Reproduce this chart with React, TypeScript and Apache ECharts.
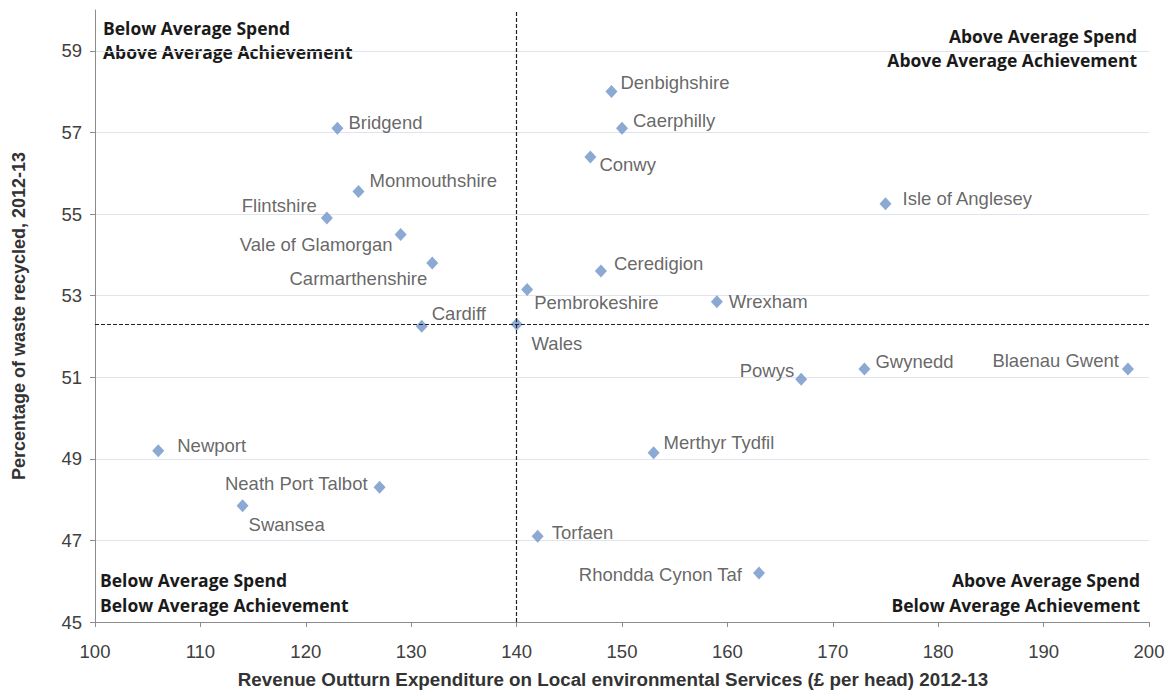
import React, { useEffect, useRef } from "react";
import * as echarts from "echarts";

const authorities = [
  "Denbighshire", "Caerphilly", "Conwy", "Bridgend", "Monmouthshire", "Flintshire",
  "Vale of Glamorgan", "Carmarthenshire", "Ceredigion", "Pembrokeshire", "Wrexham",
  "Cardiff", "Wales", "Isle of Anglesey", "Powys", "Gwynedd", "Blaenau Gwent",
  "Newport", "Neath Port Talbot", "Swansea", "Merthyr Tydfil", "Torfaen", "Rhondda Cynon Taf",
];
const spendPerHead = [149, 150, 147, 123, 125, 122, 129, 132, 148, 141, 159, 131, 140, 175, 167, 173, 198, 106, 127, 114, 153, 142, 163];
const pctRecycled = [58.0, 57.1, 56.4, 57.1, 55.55, 54.9, 54.5, 53.8, 53.6, 53.15, 52.85, 52.25, 52.3, 55.25, 50.95, 51.2, 51.2, 49.2, 48.3, 47.85, 49.15, 47.1, 46.2];
const walesName = "Wales";
const xTicks = { min: 100, max: 200, interval: 10 };
const yTicks = { min: 45, max: 60, interval: 2 };
const xTitle = "Revenue Outturn Expenditure on Local environmental Services (£ per head) 2012-13";
const yTitle = "Percentage of waste recycled, 2012-13";
const quadrantText = {
  topLeft: ["Below Average Spend", "Above Average Achievement"],
  topRight: ["Above Average Spend", "Above Average Achievement"],
  bottomLeft: ["Below Average Spend", "Below Average Achievement"],
  bottomRight: ["Above Average Spend", "Below Average Achievement"],
};

const FONT = "Liberation Sans";
const FS = 18.5;

// label placement (styling only)
const labelPlacement: Record<string, { position: string; offset: number[] }> = {
  "Denbighshire": { position: "right", offset: [-2, -9] },
  "Caerphilly": { position: "right", offset: [0, -8] },
  "Conwy": { position: "right", offset: [-2, 8] },
  "Bridgend": { position: "right", offset: [0, -6] },
  "Monmouthshire": { position: "right", offset: [0, -11] },
  "Flintshire": { position: "left", offset: [1, -13] },
  "Vale of Glamorgan": { position: "left", offset: [3, 10] },
  "Carmarthenshire": { position: "left", offset: [6, 16] },
  "Ceredigion": { position: "right", offset: [2, -8] },
  "Pembrokeshire": { position: "right", offset: [-4, 13] },
  "Wrexham": { position: "right", offset: [1, 0] },
  "Cardiff": { position: "right", offset: [-1, -13] },
  "Wales": { position: "right", offset: [4, 19] },
  "Isle of Anglesey": { position: "right", offset: [6, -5] },
  "Powys": { position: "left", offset: [4, -9] },
  "Gwynedd": { position: "right", offset: [0, -8] },
  "Blaenau Gwent": { position: "left", offset: [2, -9] },
  "Newport": { position: "right", offset: [8, -5] },
  "Neath Port Talbot": { position: "left", offset: [-1, -4] },
  "Swansea": { position: "right", offset: [-5, 19] },
  "Merthyr Tydfil": { position: "right", offset: [-1, -10] },
  "Torfaen": { position: "right", offset: [3, -4] },
  "Rhondda Cynon Taf": { position: "left", offset: [-6, 1] },
};

export default function App() {
  const ref = useRef<HTMLDivElement>(null);
  useEffect(() => {
    if (!ref.current) return;
    const chart = echarts.init(ref.current, null, { renderer: "svg" });
    const wIdx = authorities.indexOf(walesName);
    const data = authorities.map((n, i) => ({
      name: n,
      value: [spendPerHead[i], pctRecycled[i]],
      label: {
        show: true,
        position: labelPlacement[n].position,
        offset: labelPlacement[n].offset,
        distance: 5,
      },
    }));
    const qStyle = { fontFamily: "Open Sans", fontWeight: "bold", fontSize: 17.5, fill: "#1a1a1a" };
    const line = (text: string, x: number, y: number, align: string) => ({
      type: "text",
      x,
      y,
      style: { ...qStyle, text, align, verticalAlign: "middle" },
    });
    chart.setOption({
      animation: false,
      backgroundColor: "#ffffff",
      textStyle: { fontFamily: FONT },
      grid: { left: 95, right: 24, top: 10, bottom: 73, containLabel: false },
      xAxis: {
        type: "value",
        min: xTicks.min,
        max: xTicks.max,
        interval: xTicks.interval,
        axisLine: { show: true, lineStyle: { color: "#8c8c8c", width: 1 } },
        axisTick: { show: true, length: 5, lineStyle: { color: "#8c8c8c" } },
        axisLabel: { color: "#404040", fontSize: FS, margin: 20, fontFamily: FONT },
        splitLine: { show: false },
        name: xTitle,
        nameLocation: "middle",
        nameGap: 48,
        nameTextStyle: { fontWeight: "bold", fontSize: 18.8, color: "#333333", fontFamily: FONT, padding: [0, 18, 0, 0] },
      },
      yAxis: {
        type: "value",
        min: yTicks.min,
        max: yTicks.max,
        interval: yTicks.interval,
        axisLine: { show: true, lineStyle: { color: "#8c8c8c", width: 1 } },
        axisTick: { show: true, length: 5, lineStyle: { color: "#8c8c8c" } },
        axisLabel: { color: "#404040", fontSize: FS, margin: 13, showMaxLabel: false, fontFamily: FONT },
        splitLine: { show: true, showMinLine: false, showMaxLine: false, lineStyle: { color: "#dfe4ef", width: 1 } },
        name: yTitle,
        nameLocation: "middle",
        nameGap: 67,
        nameTextStyle: { fontWeight: "bold", fontSize: 18, color: "#333333", fontFamily: FONT },
      },
      graphic: [
        line(quadrantText.topLeft[0], 103, 28, "left"),
        line(quadrantText.topLeft[1], 103, 52, "left"),
        line(quadrantText.topRight[0], 1137, 36, "right"),
        line(quadrantText.topRight[1], 1137, 60, "right"),
        line(quadrantText.bottomLeft[0], 100, 580, "left"),
        line(quadrantText.bottomLeft[1], 100, 605, "left"),
        line(quadrantText.bottomRight[0], 1140, 580, "right"),
        line(quadrantText.bottomRight[1], 1140, 605, "right"),
      ],
      series: [
        {
          type: "scatter",
          symbol: "diamond",
          symbolSize: [12, 13],
          itemStyle: { color: "#6f93c8" },
          label: { color: "#404040", fontSize: FS, formatter: "{b}", fontFamily: FONT },
          data,
          markLine: {
            silent: true,
            symbol: ["none", "none"],
            label: { show: false },
            lineStyle: { color: "#222222", type: [4, 2], width: 1.2 },
            data: [
              { xAxis: spendPerHead[wIdx] },
              { yAxis: pctRecycled[wIdx] },
            ],
          },
          z: 3,
        },
      ],
    });
    return () => chart.dispose();
  }, []);
  return (
    <div
      ref={ref}
      style={{ position: "absolute", left: 0, top: 0, width: 1173, height: 695 }}
    />
  );
}
